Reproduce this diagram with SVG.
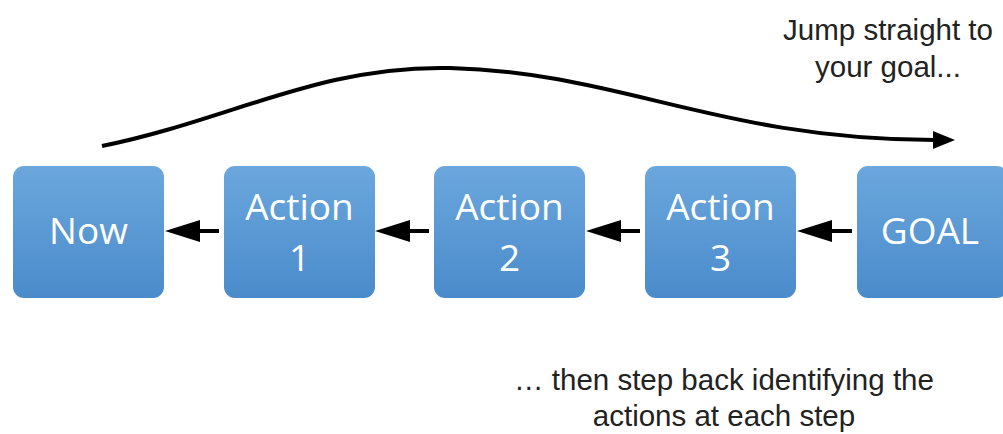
<svg xmlns="http://www.w3.org/2000/svg" width="1003" height="434" viewBox="0 0 1003 434">
<style>
.node rect{fill:url(#g);}
.node text{fill:#fff;font-family:"Open Sans",sans-serif;font-size:37px;text-anchor:middle;}
.lbl{fill:#222;font-family:"Liberation Sans",Arial,sans-serif;font-size:29.5px;text-anchor:middle;}
.conn{stroke:#000;stroke-width:4;fill:none;}
</style>
<defs>
<linearGradient id="g" x1="0" y1="0" x2="0" y2="1">
<stop offset="0" stop-color="#6ba7dd"/>
<stop offset="1" stop-color="#4a8bcb"/>
</linearGradient>
</defs>
<g id="now" class="node"><rect x="13" y="166" width="151" height="132" rx="11"/><text x="88.5" y="244">Now</text></g>
<g id="action1" class="node"><rect x="224" y="166" width="151" height="132" rx="11"/><text x="299.5" y="220">Action</text><text x="299.5" y="271">1</text></g>
<g id="action2" class="node"><rect x="434" y="166" width="151" height="132" rx="11"/><text x="509.5" y="220">Action</text><text x="509.5" y="271">2</text></g>
<g id="action3" class="node"><rect x="645" y="166" width="151" height="132" rx="11"/><text x="720.5" y="220">Action</text><text x="720.5" y="271">3</text></g>
<g id="goal" class="node"><rect x="857" y="166" width="151" height="132" rx="11"/><text x="930" y="244">GOAL</text></g>
<g id="connectors">
<path class="conn" d="M219,231 L196,231"/><path d="M165,231 L200,220 L200,242 z"/>
<path class="conn" d="M429,231 L406,231"/><path d="M375,231 L410,220 L410,242 z"/>
<path class="conn" d="M640,231 L617,231"/><path d="M586,231 L621,220 L621,242 z"/>
<path class="conn" d="M852,231 L829,231"/><path d="M797,231 L832,220 L832,242 z"/>
<path class="conn" d="M102,146 C230,120 320,65 450,68 C620,72 720,140 935,140"/>
<path d="M955,140 L933,131 L933,149 z"/>
</g>
<g id="labels">
<text class="lbl" x="888" y="40">Jump straight to</text>
<text class="lbl" x="888" y="77">your goal...</text>
<text class="lbl" x="724" y="390">… then step back identifying the</text>
<text class="lbl" x="724" y="426">actions at each step</text>
</g>
</svg>
